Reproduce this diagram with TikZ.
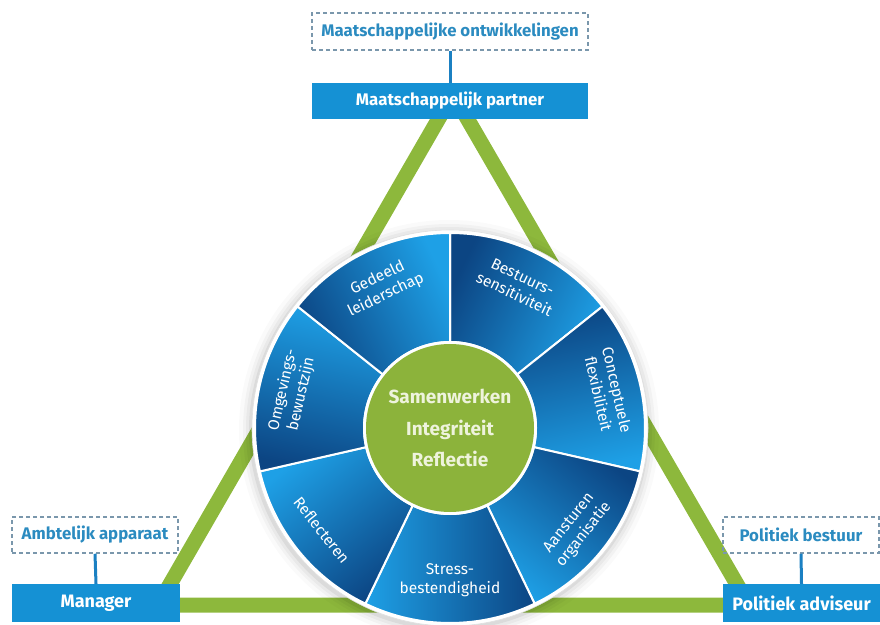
\documentclass[tikz,border=0pt]{standalone}
\usepackage{fontspec}
\setmainfont{Fira Sans}
\definecolor{boxblue}{HTML}{1591D4}
\definecolor{labelblue}{HTML}{2B8BC0}
\definecolor{dashgray}{HTML}{7A97AC}
\definecolor{linkblue}{HTML}{1B80C2}
\definecolor{trigreen}{HTML}{8DB83C}
\definecolor{coregreen}{HTML}{8CB33B}
\definecolor{coretext}{HTML}{EEF3DC}
\definecolor{segdark}{HTML}{0C4583}
\definecolor{seglight}{HTML}{1EA0E6}
\tikzset{
  rolebox/.style={fill=boxblue, text=white, inner sep=0pt,
    font=\bfseries\fontsize{16.8}{19}\selectfont},
  bigrolebox/.style={rolebox, font=\bfseries\fontsize{18}{20}\selectfont},
  contextbox/.style={draw=dashgray, dash pattern=on 4pt off 3pt, line width=1.5pt,
    text=labelblue, inner sep=0pt, font=\bfseries\fontsize{16.8}{19}\selectfont},
  link/.style={draw=linkblue, line width=3pt},
  side/.style={draw=trigreen, line width=15pt, line join=round},
  seglabel/.style={text=white, align=center, font=\fontsize{15.5}{19}\selectfont},
  corelabel/.style={text=coretext, align=center, font=\bfseries\fontsize{19}{31.5}\selectfont},
}
\begin{document}
\begin{tikzpicture}[x=1pt,y=1pt]
\useasboundingbox (0,0) rectangle (880,624);
% triangle
\coordinate (apex) at (453,530);
\coordinate (lb) at (158,19);
\coordinate (rb) at (749,19);
\draw[side] (apex) -- (lb) -- (rb) -- cycle;
% wheel
\begin{scope}[shift={(450,196)}]
  \foreach \r/\o in {210/0.02,206/0.03,203/0.04,200/0.06}
    \fill[black, opacity=\o] (-1,-2) circle (\r);
  \fill[white] (0,0) circle (198);
  \draw[black!12, line width=0.6pt] (0,0) circle (198);
  \foreach \k/\rad/\rot/\txt in {
      0/158/-25.7/{Bestuurs-\\sensitiviteit},
      1/162/-77.1/{Conceptuele\\flexibiliteit},
      2/162/51.4/{Aansturen\\organisatie},
      3/152/0/{Stress-\\bestendigheid},
      4/164/-51.4/{Reflecteren},
      5/162/77.1/{Omgevings-\\bewustzijn},
      6/157/25.7/{Gedeeld\\leiderschap}} {
    \pgfmathsetmacro\bA{90-\k*360/7}
    \pgfmathsetmacro\bB{90-(\k+1)*360/7}
    \pgfmathsetmacro\bM{90-(\k+0.5)*360/7}
    \pgfmathsetmacro\sh{\bM-180}
    \path[draw=white, line width=2pt, top color=seglight, bottom color=segdark, shading angle=\sh]
      (\bB:86) arc[start angle=\bB, end angle=\bA, radius=86]
      -- (\bA:195) arc[start angle=\bA, end angle=\bB, radius=195] -- cycle;
    \node[seglabel, rotate=\rot] (seg\k) at (\bM:\rad) {\txt};
  }
  \fill[white] (0,0) circle (87);
  \fill[coregreen] (0,0) circle (84);
  \node[corelabel] (core) at (0,0) {Samenwerken\\Integriteit\\Reflectie};
\end{scope}
% boxes
\node[contextbox, minimum width=276pt, minimum height=37pt] (ontw) at (450,592.5) {Maatschappelijke ontwikkelingen};
\node[rolebox, minimum width=276pt, minimum height=36pt] (partner) at (450,523) {Maatschappelijk partner};
\node[contextbox, minimum width=166pt, minimum height=36pt] (ambt) at (95,89) {Ambtelijk apparaat};
\node[bigrolebox, minimum width=168pt, minimum height=38pt] (manager) at (96,21) {Manager};
\node[contextbox, minimum width=156pt, minimum height=36pt] (bestuur) at (801,89) {Politiek bestuur};
\node[bigrolebox, minimum width=157pt, minimum height=38pt] (adviseur) at (801.5,21) {Politiek adviseur};
\draw[link] (ontw.south) -- (partner.north);
\draw[link] (ambt.south) -- (manager.north);
\draw[link] (bestuur.south) -- (adviseur.north);
\end{tikzpicture}
\end{document}
